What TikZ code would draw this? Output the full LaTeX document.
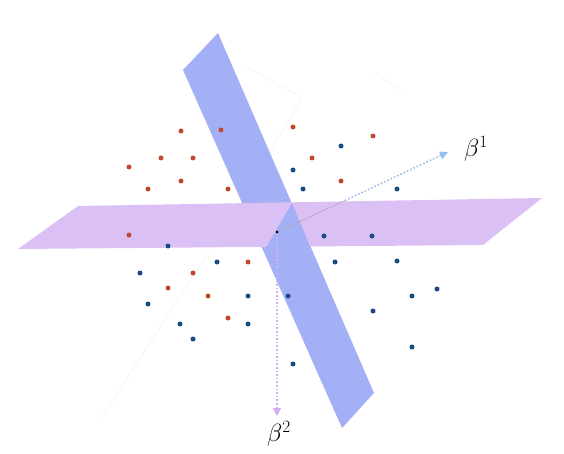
\documentclass[tikz,border=0pt]{standalone}
\usetikzlibrary{arrows.meta}
\definecolor{bplane}{RGB}{164,176,246}
\definecolor{pplane}{RGB}{219,192,246}
\definecolor{rdot}{RGB}{192,72,44}
\definecolor{bdot}{RGB}{24,76,132}
\definecolor{barrow}{RGB}{150,192,236}
\definecolor{parrow}{RGB}{212,172,242}
\tikzset{
  faint/.style={draw=black!6, line width=0.5pt},
  reddot/.style={circle, fill=rdot, inner sep=0pt, minimum size=5pt},
  bluedot/.style={circle, fill=bdot, inner sep=0pt, minimum size=5pt},
  axisarrow/.style={line width=1.6pt, dotted, -{Triangle[length=8pt,width=8pt]}},
  lbl/.style={font=\fontsize{23}{26}\selectfont, inner sep=0pt}
}
\begin{document}
\begin{tikzpicture}[x=1pt,y=-1pt]
\useasboundingbox (0,0) rectangle (564,454);
% faint box lines
\coordinate (f1) at (247,67); \coordinate (f2) at (302,98); \coordinate (f3) at (250,185);
\coordinate (f4) at (375,72); \coordinate (f5) at (403,93);
\coordinate (f6) at (210,250); \coordinate (f7) at (100,420);
\draw[faint] (f1) -- (f2) -- (f3);
\draw[faint] (f4) -- (f5);
\draw[faint] (f6) -- (f7);
% blue plane
\fill[bplane] (183,70) -- (218,33) -- (374,393) -- (342,428) -- cycle;
% purple plane
\fill[pplane] (18,249) -- (78,206) -- (542,198) -- (483,245) -- cycle;
% blue part in front
\fill[bplane] (292,203) -- (310,246.5) -- (266,247.5) -- cycle;
% origin
\node[circle, fill=black, inner sep=0pt, minimum size=3pt] (o) at (277,232) {};
\coordinate (c1) at (345,200.5);
\node[lbl] (b1) at (476,149) {$\beta^1$};
\node[lbl] (b2) at (279,434) {$\beta^2$};
\coordinate (t1) at (448,152);
\coordinate (t2) at (277,416);
\draw[black!35, line width=0.5pt] (o) -- (c1);
\draw[axisarrow, barrow] (c1) -- (t1);
\draw[axisarrow, parrow] (o) -- (t2);
% red dots
\foreach \p [count=\i] in {(181,131),(221,130),(161,158),(193,158),(129,167),(181,181),(148,189),(228,189),(293,127),(129,235),(373,136),(312,158),(341,181),(248,262),(193,273),(168,288),(208,296),(228,318)}
  \node[reddot] (r\i) at \p {};
% blue dots
\foreach \p [count=\i] in {(293,170),(168,246),(341,146),(303,189),(397,189),(324,236),(372,236),(217,262),(140,273),(148,304),(248,296),(180,324),(248,324),(193,339),(288,296),(335,262),(397,261),(412,296),(437,289),(373,311),(412,347),(293,364)}
  \node[bluedot] (d\i) at \p {};
\end{tikzpicture}
\end{document}
